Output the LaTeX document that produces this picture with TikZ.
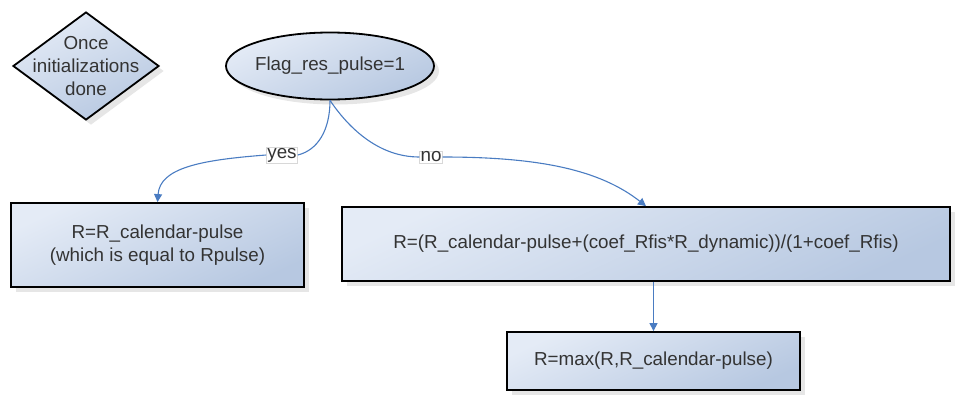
\documentclass[tikz,border=0pt]{standalone}
\usepackage{fontspec}
\setmainfont{Liberation Sans}
\usetikzlibrary{shapes.geometric,shadows,arrows.meta}
\definecolor{boxlight}{HTML}{E4EBF6}
\definecolor{boxdark}{HTML}{B7C8E1}
\definecolor{arrowblue}{HTML}{4A7CC2}
\definecolor{lblborder}{HTML}{D8D8D8}
\definecolor{textgray}{HTML}{333333}
\tikzset{
  shapefill/.style={draw=black, line width=1.8pt, top color=boxlight, bottom color=boxdark, shading angle=25,
    drop shadow={opacity=0.2, shadow xshift=5pt, shadow yshift=-5pt}},
  procbox/.style={shapefill, rectangle, inner sep=0pt},
  txt/.style={inner sep=0pt, align=center, font=\fontsize{18.8}{23}\selectfont, text=textgray},
  plainline/.style={draw=arrowblue, line width=1.1pt},
  conn/.style={plainline, -{Triangle[length=8pt,width=8pt]}},
  lbl/.style={fill=white, draw=lblborder, line width=0.4pt, inner sep=1pt, font=\fontsize{18.8}{20}\selectfont, text=textgray},
}
\begin{document}
\begin{tikzpicture}[x=1pt,y=-1pt]
\useasboundingbox (0,0) rectangle (956,394);
% diamond
\node[shapefill, diamond, minimum width=146pt, minimum height=108pt, inner sep=0pt] (d) at (86,66) {};
\node[txt] (dt) at (d.center) {Once\\initializations\\done};
% ellipse
\node[shapefill, ellipse, minimum width=208pt, minimum height=67pt, inner sep=0pt] (e) at (330,66) {};
\node[txt] (et) at (e.center) {Flag\_res\_pulse=1};
% boxes
\node[procbox, minimum width=293pt, minimum height=84pt] (b1) at (157.5,245) {};
\node[txt] (b1t) at (b1.center) {R=R\_calendar-pulse\\(which is equal to Rpulse)};
\node[procbox, minimum width=608pt, minimum height=74pt] (b2) at (646,244) {};
\node[txt] (b2t) at (b2.center) {R=(R\_calendar-pulse+(coef\_Rfis*R\_dynamic))/(1+coef\_Rfis)};
\node[procbox, minimum width=293pt, minimum height=58pt] (b3) at (653.5,361) {};
\node[txt] (b3t) at (b3.center) {R=max(R,R\_calendar-pulse)};
% labels
\node[lbl] (yes) at (282,155) {yes};
\node[lbl] (no) at (431,157) {no};
% connectors
\draw[plainline] (e.south) .. controls (330,130) and (318,150) .. (yes.east);
\draw[conn] (yes.west) .. controls (200,160) and (160,168) .. (b1.north);
\draw[plainline] (e.south) .. controls (350,130) and (380,157) .. (no.west);
\draw[conn] (no.east) .. controls (540,157) and (600,170) .. (b2.north);
\draw[conn] (b3.north |- b2.south) -- (b3.north);
\end{tikzpicture}
\end{document}
